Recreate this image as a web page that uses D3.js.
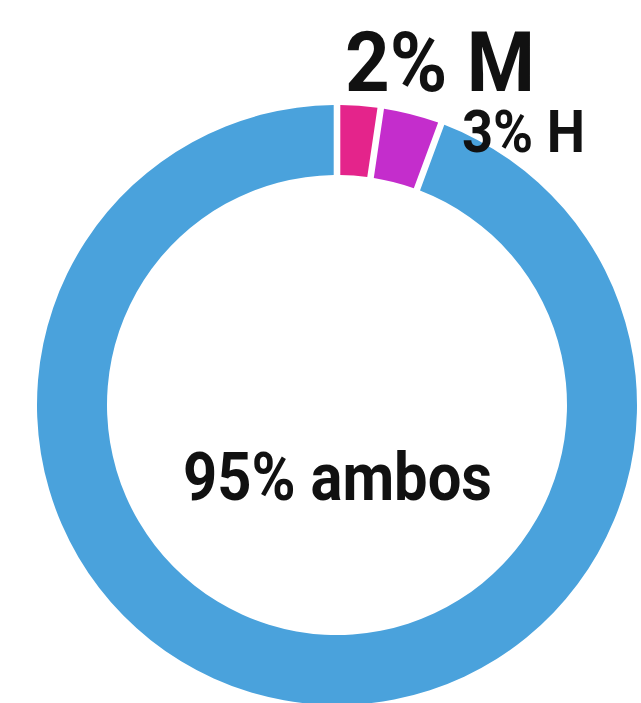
<!DOCTYPE html>
<html>
<head>
<meta charset="utf-8">
<script src="https://cdn.jsdelivr.net/npm/d3@7"></script>
<style>
  html, body { margin: 0; padding: 0; background: #fff; }
  svg { display: block; }
  text { font-family: Roboto, "Noto Sans", sans-serif; font-weight: 700; fill: #111; }
</style>
</head>
<body>
<svg id="chart" width="641" height="703"></svg>
<script>
const categories = ["M", "H", "ambos"];
const values = [2, 3, 95];
const labels = ["2% M", "3% H", "95% ambos"];
const colors = ["#e4248b", "#c42dcc", "#4aa2dc"];

const W = 641, H = 703;
const cx = 337, cy = 405, outerR = 300, innerR = 230;

const svg = d3.select("#chart");
const g = svg.append("g").attr("transform", `translate(${cx},${cy})`);

const pie = d3.pie().sort(null).value(d => d.value).padAngle(0.022);
const arc = d3.arc().innerRadius(innerR).outerRadius(outerR).padRadius(outerR);

const data = categories.map((c, i) => ({ cat: c, value: values[i], color: colors[i] }));

g.selectAll("path.slice")
  .data(pie(data))
  .join("path")
  .attr("class", "slice")
  .attr("d", arc)
  .attr("fill", d => d.data.color);

// labels
svg.append("text")
  .attr("x", 345).attr("y", 91)
  .attr("font-size", 84)
  .attr("textLength", 190).attr("lengthAdjust", "spacingAndGlyphs")
  .text(labels[0]);

svg.append("text")
  .attr("x", 462).attr("y", 152)
  .attr("font-size", 60)
  .attr("textLength", 123).attr("lengthAdjust", "spacingAndGlyphs")
  .text(labels[1]);

svg.append("text")
  .attr("x", 183).attr("y", 500)
  .attr("font-size", 66)
  .attr("textLength", 309).attr("lengthAdjust", "spacingAndGlyphs")
  .text(labels[2]);
</script>
</body>
</html>
